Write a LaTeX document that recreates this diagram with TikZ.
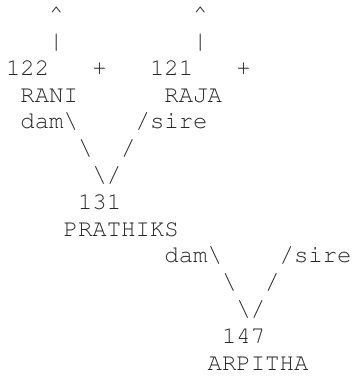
\documentclass[tikz,border=0pt]{standalone}
\usepackage[T1]{fontenc}
\usepackage{courier}
\tikzset{ascii/.style={anchor=base west, inner sep=0pt, outer sep=0pt, text=black!85, font=\ttfamily\fontsize{24}{24}\selectfont}}
\newcommand{\asctxt}[4]{\node[ascii] (#1) at ({6pt+#2*14.4pt},{-21.6pt-#3*26.8pt}) {#4};}
\begin{document}
\begin{tikzpicture}
\useasboundingbox (0,0) rectangle (354pt,-383pt);
\asctxt{upA}{3}{0}{\textasciicircum}
\asctxt{upB}{13}{0}{\textasciicircum}
\asctxt{barA}{3}{1}{\textbar}
\asctxt{barB}{13}{1}{\textbar}
\asctxt{n122}{0}{2}{122}
\asctxt{plusA}{6}{2}{+}
\asctxt{n121}{10}{2}{121}
\asctxt{plusB}{16}{2}{+}
\asctxt{rani}{1}{3}{RANI}
\asctxt{raja}{11}{3}{RAJA}
\asctxt{damA}{1}{4}{dam\textbackslash}
\asctxt{sireA}{9}{4}{/sire}
\asctxt{lA}{5}{5}{\textbackslash}
\asctxt{rA}{8}{5}{/}
\asctxt{vA}{6}{6}{\textbackslash/}
\asctxt{n131}{5}{7}{131}
\asctxt{prathiks}{4}{8}{PRATHIKS}
\asctxt{damB}{11}{9}{dam\textbackslash}
\asctxt{sireB}{19}{9}{/sire}
\asctxt{lB}{15}{10}{\textbackslash}
\asctxt{rB}{18}{10}{/}
\asctxt{vB}{16}{11}{\textbackslash/}
\asctxt{n147}{15}{12}{147}
\asctxt{arpitha}{14}{13}{ARPITHA}
\end{tikzpicture}
\end{document}
